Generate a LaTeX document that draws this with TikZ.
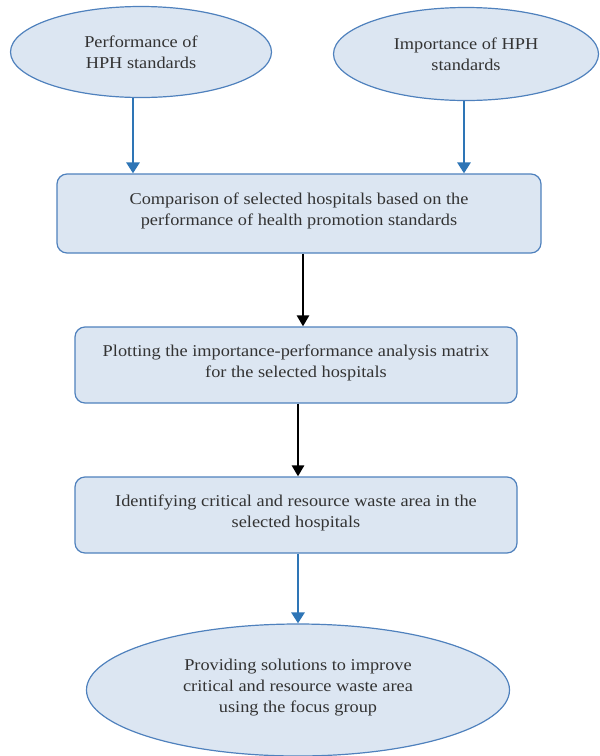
\documentclass[tikz,border=0pt]{standalone}
\usepackage{fontspec}
\setmainfont[FakeStretch=1.11]{Liberation Serif}
\usetikzlibrary{shapes.geometric,arrows.meta}
\definecolor{boxfill}{HTML}{DCE6F2}
\definecolor{boxline}{HTML}{4F81BD}
\definecolor{arrblue}{HTML}{2E75B6}
\definecolor{txt}{HTML}{333333}
\tikzset{
  oval/.style={ellipse, draw=boxline, fill=boxfill, line width=1.2pt, inner sep=0pt, text=txt, align=center, font=\fontsize{16.5}{21}\selectfont},
  stepbox/.style={rectangle, rounded corners=10pt, draw=boxline, fill=boxfill, line width=1.2pt, inner sep=0pt, text=txt, align=center, font=\fontsize{16.5}{21}\selectfont, text depth=8pt},
  bluearr/.style={draw=arrblue, line width=2.8pt, -{Triangle[length=11pt,width=13pt]}},
  blackarr/.style={draw=black, line width=2.6pt, -{Triangle[length=11pt,width=12pt]}}
}
\begin{document}
\begin{tikzpicture}[x=1pt,y=-1pt]
\useasboundingbox (0,0) rectangle (600,756);
\node[oval, minimum width=261pt, minimum height=91pt] (perf) at (141,52) {Performance of\\HPH standards};
\node[oval, minimum width=265pt, minimum height=93pt] (imp) at (466,54) {Importance of HPH\\standards};
\node[stepbox, minimum width=484pt, minimum height=79pt] (comp) at (299,213.5) {Comparison of selected hospitals based on the\\performance of health promotion standards};
\node[stepbox, minimum width=442pt, minimum height=76pt] (plot) at (296,365) {Plotting the importance-performance analysis matrix\\for the selected hospitals};
\node[stepbox, minimum width=442pt, minimum height=76pt] (ident) at (296,515) {Identifying critical and resource waste area in the\\selected hospitals};
\node[oval, minimum width=423pt, minimum height=132pt, text depth=8pt] (prov) at (298,690) {Providing solutions to improve\\critical and resource waste area\\using the focus group};
\draw[bluearr] (perf.south -| 133,0) -- (comp.north -| 133,0);
\draw[bluearr] (imp.south -| 464,0) -- (comp.north -| 464,0);
\draw[blackarr] (comp.south -| 303,0) -- (plot.north -| 303,0);
\draw[blackarr] (plot.south -| 298,0) -- (ident.north -| 298,0);
\draw[bluearr] (ident.south -| 298,0) -- (prov.north -| 298,0);
\end{tikzpicture}
\end{document}
